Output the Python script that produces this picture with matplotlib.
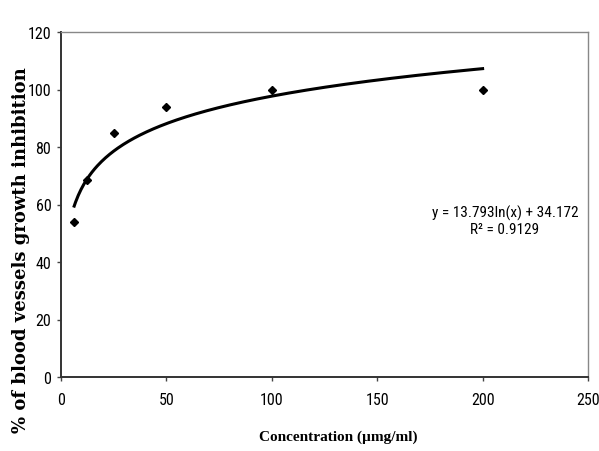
import numpy as np
import matplotlib
matplotlib.use("Agg")
import matplotlib.pyplot as plt
from matplotlib import font_manager as fm

conc = [6.25, 12.5, 25, 50, 100, 200]
inhibition = [54, 68.5, 85, 94, 100, 100]
fit_a, fit_b = 13.793, 34.172
xticks = [0, 50, 100, 150, 200, 250]
yticks = [0, 20, 40, 60, 80, 100, 120]

names = {f.name for f in fm.fontManager.ttflist}
tick_font = "Liberation Sans"
for cand in ["Liberation Sans Narrow", "Roboto Condensed", "Open Sans Condensed", "DejaVu Sans Condensed"]:
    if cand in names:
        tick_font = cand
        break

fig = plt.figure(figsize=(5.99, 4.52), dpi=100)
ax = fig.add_axes([61/599, 1-378/452, (588-61)/599, (378-33)/452])

xs = np.linspace(min(conc), max(conc), 300)
ax.plot(xs, fit_a*np.log(xs) + fit_b, color="black", lw=2.2, zorder=2)
ax.plot(conc, inhibition, linestyle="none", marker="D", color="black", ms=4.5, zorder=3)

ax.set_xlim(0, 250)
ax.set_ylim(0, 120)
ax.set_xticks(xticks)
ax.set_yticks(yticks)
for lab in ax.get_xticklabels() + ax.get_yticklabels():
    lab.set_family(tick_font)
    lab.set_fontsize(11.5)
ax.tick_params(direction="out", length=3, width=1, color="#444444", pad=4)
ax.tick_params(axis="x", pad=8)

for s in ["left", "bottom"]:
    ax.spines[s].set_linewidth(1.4)
    ax.spines[s].set_color("#333333")
for s in ["top", "right"]:
    ax.spines[s].set_linewidth(1.0)
    ax.spines[s].set_color("#888888")

fig.text(505/599, 1-221/452, "y = 13.793ln(x) + 34.172\nR² = 0.9129",
         ha="center", va="center", family=tick_font, fontsize=11, linespacing=1.2)

fig.text(338/599, 1-437/452, "Concentration (µmg/ml)", ha="center", va="center",
         family="Liberation Serif", fontweight="bold", fontsize=11)
fig.text(21/599, 1-250/452, "% of blood vessels growth inhibition", ha="center", va="center",
         rotation=90, family="DejaVu Serif", fontweight="bold", fontsize=13)

fig.savefig("out.png", dpi=100)
